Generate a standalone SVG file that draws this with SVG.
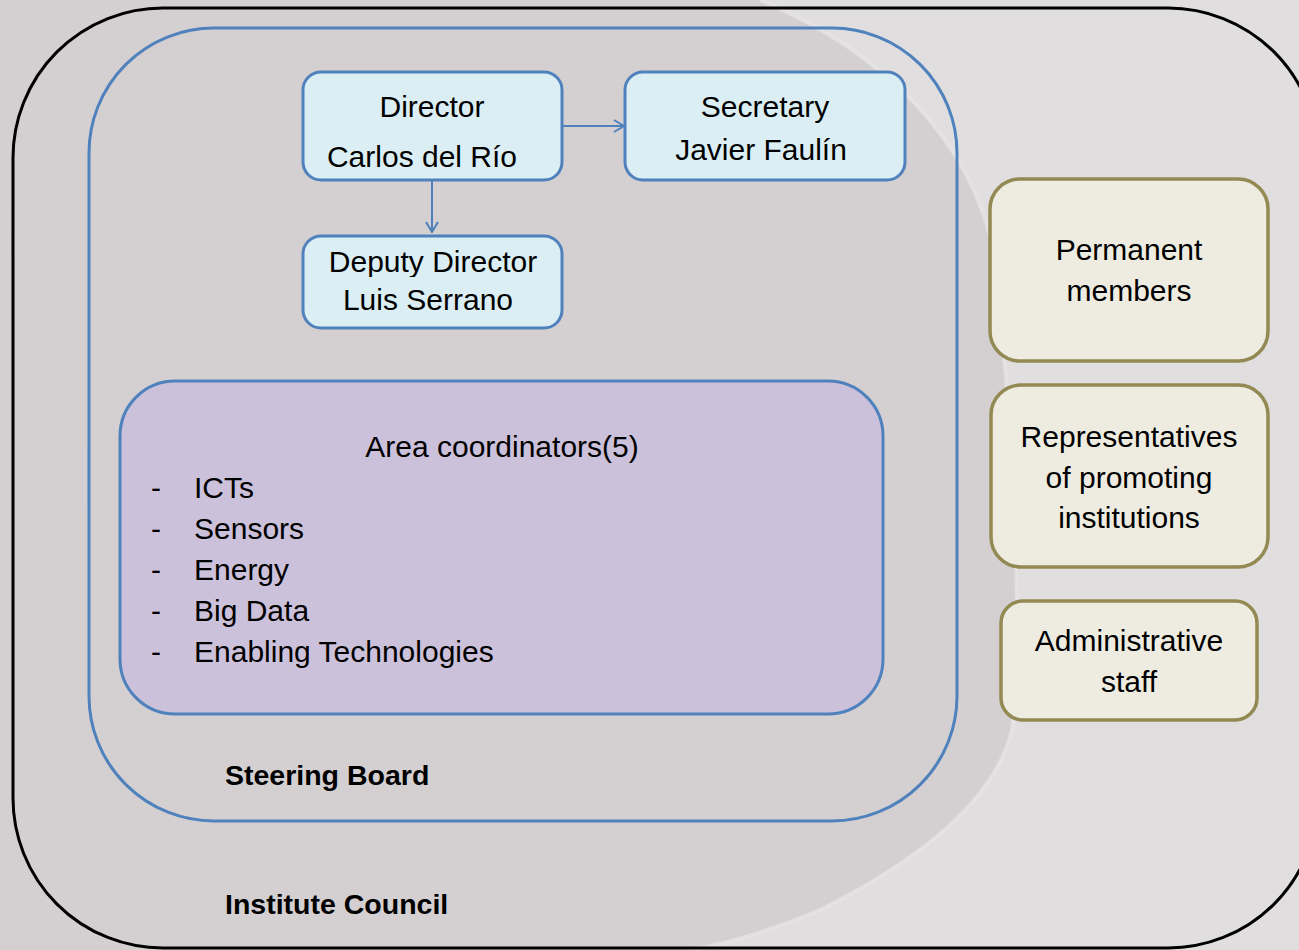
<svg xmlns="http://www.w3.org/2000/svg" width="1299" height="950" viewBox="0 0 1299 950">
  <style>
    text { font-family: "Liberation Sans", Arial, sans-serif; fill: #000; }
    .t30 { font-size: 30px; }
    .mid { text-anchor: middle; }
    .bold { font-size: 28.5px; font-weight: bold; }
    .blue { fill: #dbeef4; stroke: #4f81bd; stroke-width: 3; }
    .olive { fill: #eeece1; stroke: #938953; stroke-width: 3.5; }
    .conn { stroke: #4f81bd; stroke-width: 2; fill: none; }
  </style>
  <defs>
    <marker id="arr" viewBox="0 0 12 14" refX="11" refY="7" markerWidth="12" markerHeight="14" markerUnits="userSpaceOnUse" orient="auto">
      <path d="M1,1 L11,7 L1,13" fill="none" stroke="#4f81bd" stroke-width="2"/>
    </marker>
    <clipPath id="depclip"><rect x="300" y="230" width="270" height="47"/></clipPath>
  </defs>

  <!-- background -->
  <rect x="0" y="0" width="1299" height="950" fill="#e0dedf"/>
  <path d="M 760 0 C 880 50, 975 140, 995 260 C 1010 400, 1025 620, 1012 730 C 995 800, 920 860, 820 910 C 760 935, 720 945, 690 950 L 0 950 L 0 0 Z" fill="#d4d0d1"/>
  <path d="M 760 0 C 880 50, 975 140, 995 260 C 1010 400, 1025 620, 1012 730 C 995 800, 920 860, 820 910 C 760 935, 720 945, 690 950" fill="none" stroke="#e8e6e7" stroke-width="4" opacity="0.7"/>

  <!-- Institute Council -->
  <g id="institute-council">
    <rect x="13" y="8" width="1305" height="940" rx="150" ry="150" fill="none" stroke="#000" stroke-width="3"/>
    <text class="bold" x="225" y="914">Institute Council</text>
  </g>

  <!-- Steering Board -->
  <g id="steering-board">
    <rect x="89" y="28" width="868" height="793" rx="125" ry="125" fill="none" stroke="#4f81bd" stroke-width="3"/>
    <text class="bold" x="225" y="785">Steering Board</text>
  </g>

  <g id="director">
    <rect class="blue" x="303" y="72" width="259" height="108" rx="18"/>
    <text class="t30 mid" x="432" y="117">Director</text>
    <text class="t30 mid" x="422" y="167">Carlos del Río</text>
  </g>

  <g id="secretary">
    <rect class="blue" x="625" y="72" width="280" height="108" rx="18"/>
    <text class="t30 mid" x="765" y="117">Secretary</text>
    <text class="t30 mid" x="761" y="160">Javier Faulín</text>
  </g>

  <g id="deputy-director">
    <rect class="blue" x="303" y="236" width="259" height="92" rx="18"/>
    <text class="t30 mid" x="433" y="272" clip-path="url(#depclip)">Deputy Director</text>
    <text class="t30 mid" x="428" y="310">Luis Serrano</text>
  </g>

  <g id="area-coordinators">
    <rect x="120" y="381" width="763" height="333" rx="55" fill="#ccc1da" stroke="#4f81bd" stroke-width="3"/>
    <text class="t30 mid" x="502" y="457">Area coordinators(5)</text>
    <text class="t30" x="151" y="498">-</text><text class="t30" x="194" y="498">ICTs</text>
    <text class="t30" x="151" y="539">-</text><text class="t30" x="194" y="539">Sensors</text>
    <text class="t30" x="151" y="580">-</text><text class="t30" x="194" y="580">Energy</text>
    <text class="t30" x="151" y="621">-</text><text class="t30" x="194" y="621">Big Data</text>
    <text class="t30" x="151" y="662">-</text><text class="t30" x="194" y="662">Enabling Technologies</text>
  </g>

  <g id="permanent-members">
    <rect class="olive" x="990" y="179" width="278" height="182" rx="30"/>
    <text class="t30 mid" x="1129" y="260">Permanent</text>
    <text class="t30 mid" x="1129" y="301">members</text>
  </g>

  <g id="representatives">
    <rect class="olive" x="991" y="385" width="277" height="182" rx="30"/>
    <text class="t30 mid" x="1129" y="447">Representatives</text>
    <text class="t30 mid" x="1129" y="488">of promoting</text>
    <text class="t30 mid" x="1129" y="528">institutions</text>
  </g>

  <g id="administrative-staff">
    <rect class="olive" x="1001" y="601" width="256" height="119" rx="22"/>
    <text class="t30 mid" x="1129" y="651">Administrative</text>
    <text class="t30 mid" x="1129" y="692">staff</text>
  </g>

  <g id="connectors">
    <line class="conn" x1="562" y1="126" x2="624" y2="126" marker-end="url(#arr)"/>
    <line class="conn" x1="432" y1="180" x2="432" y2="232" marker-end="url(#arr)"/>
  </g>
</svg>
